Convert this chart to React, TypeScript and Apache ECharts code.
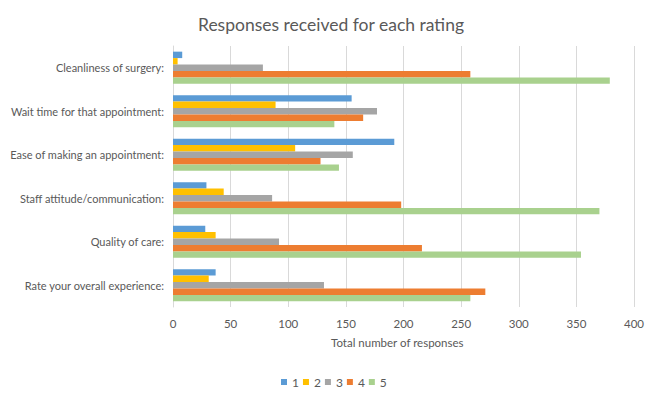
import React, { useEffect, useRef } from "react";
import * as echarts from "echarts";

const categories = [
  "Cleanliness of surgery:",
  "Wait time for that appointment:",
  "Ease of making an appointment:",
  "Staff attitude/communication:",
  "Quality of care:",
  "Rate your overall experience:",
];
const seriesNames = ["1", "2", "3", "4", "5"];
const rating1Values = [8, 155, 192, 29, 28, 37];
const rating2Values = [4, 89, 106, 44, 37, 31];
const rating3Values = [78, 177, 156, 86, 92, 131];
const rating4Values = [258, 165, 128, 198, 216, 271];
const rating5Values = [379, 140, 144, 370, 354, 258];
const xTicks = [0, 50, 100, 150, 200, 250, 300, 350, 400];
const colors = ["#5B9BD5", "#FFC000", "#A5A5A5", "#ED7D31", "#A9D18E"];

export default function App() {
  const ref = useRef<HTMLDivElement>(null);
  useEffect(() => {
    if (!ref.current) return;
    const chart = echarts.init(ref.current, null, { renderer: "svg" });
    const values = [rating1Values, rating2Values, rating3Values, rating4Values, rating5Values];
    const font = "Lato, 'Open Sans', sans-serif";
    chart.setOption({
      animation: false,
      textStyle: { fontFamily: font },
      title: {
        text: "Responses received for each rating",
        left: 326,
        textAlign: "center",
        top: 10,
        textStyle: { fontSize: 17.5, fontWeight: "normal", color: "#595959", fontFamily: font },
      },
      legend: {
        data: seriesNames,
        left: 276,
        top: 371,
        itemWidth: 6,
        itemHeight: 6,
        itemGap: 4,
        icon: "rect",
        textStyle: { fontSize: 12, color: "#595959", fontFamily: font },
      },
      grid: { left: 173, right: 24, top: 46, height: 261, containLabel: false, outerBoundsMode: "none" },
      xAxis: {
        type: "value",
        min: xTicks[0],
        max: xTicks[xTicks.length - 1],
        interval: xTicks[1] - xTicks[0],
        axisLine: { show: false },
        axisTick: { show: false },
        axisLabel: { fontSize: 11.5, color: "#595959", margin: 10, fontFamily: font },
        splitLine: { lineStyle: { color: "#D9D9D9", width: 1 } },
      },
      yAxis: {
        type: "category",
        data: categories,
        inverse: true,
        axisLine: { show: true, lineStyle: { color: "#D9D9D9" } },
        axisTick: { show: false },
        axisLabel: { fontSize: 11, color: "#595959", margin: 9, fontFamily: font },
      },
      graphic: [
        {
          type: "text",
          left: 331,
          top: 336,
          style: { text: "Total number of responses", fontSize: 11.5, fill: "#595959", fontFamily: font },
        },
      ],
      series: seriesNames.map((name, i) => ({
        name,
        type: "bar",
        data: values[i],
        itemStyle: { color: colors[i] },
        barGap: "0%",
        barCategoryGap: "26%",
      })),
    });
    return () => chart.dispose();
  }, []);
  return <div ref={ref} style={{ width: 658, height: 397, position: "absolute", left: 0, top: 0 }} />;
}
